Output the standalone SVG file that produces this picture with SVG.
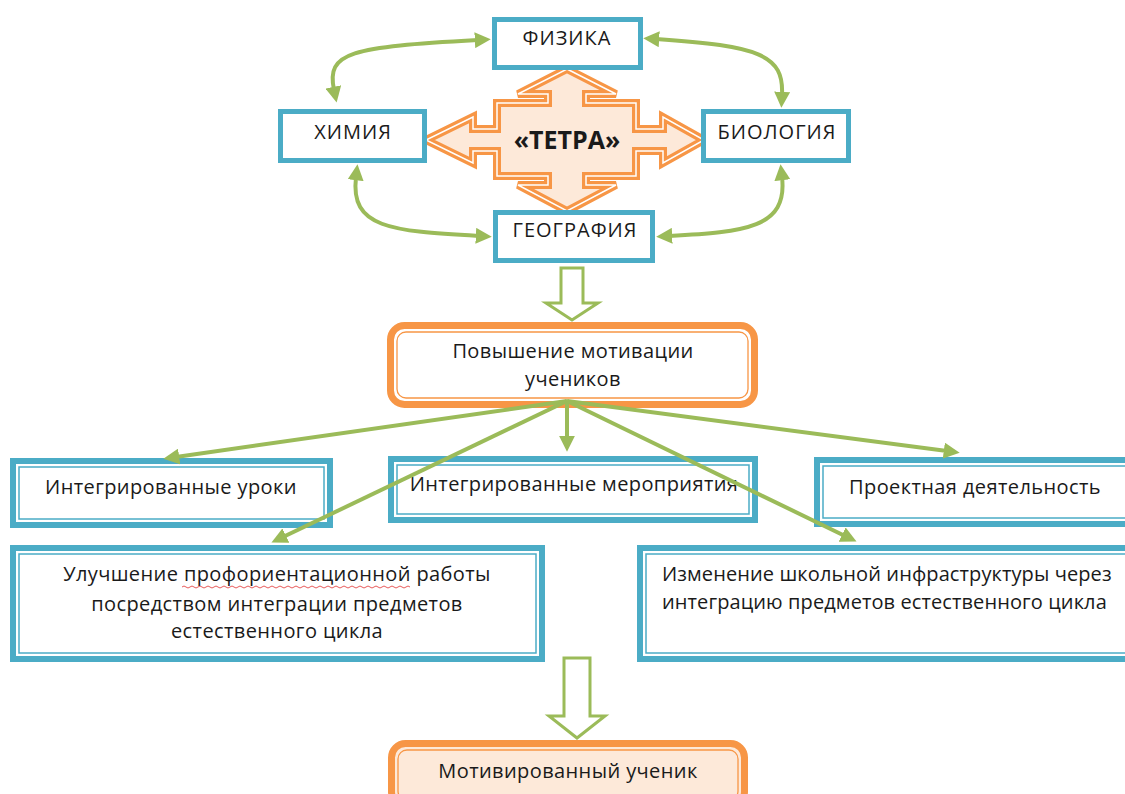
<svg xmlns="http://www.w3.org/2000/svg" width="1125" height="794" viewBox="0 0 1125 794">
<defs>
<style>
.t{font-family:"Open Sans","Noto Sans","DejaVu Sans",sans-serif;fill:#1a1a1a;font-size:20px;letter-spacing:0.4px}
.c{text-anchor:middle}
.cap{font-size:20px;letter-spacing:1px}
.bx{fill:#fff;stroke:#4BACC6;stroke-width:5}
.dbo{fill:#fff;stroke:#4BACC6;stroke-width:6}
.dbi{fill:none;stroke:#4BACC6;stroke-width:1.5}
.oro{stroke:#F79646;stroke-width:7}
.ori{fill:none;stroke:#F79646;stroke-width:1.3}
.con{fill:none;stroke:#9BBB59;stroke-width:4}
.hol{fill:#fff;stroke:#9BBB59;stroke-width:3;stroke-linejoin:miter}
</style>
<marker id="ah" viewBox="0 0 10 10" refX="2" refY="5" markerWidth="4" markerHeight="4" orient="auto-start-reverse">
<path d="M0,0 L10,5 L0,10 z" fill="#9BBB59"/>
</marker>
</defs>
<rect width="1125" height="794" fill="#fff"/>

<g id="tetra">
<path d="M567,69 L616,94 L586,94 L586,103 L636,103 L636,129 L663,129 L663,117 L704,140 L663,163 L663,151 L636,151 L636,176 L586,176 L586,185 L616,185 L567,211 L518,185 L548,185 L548,176 L497,176 L497,151 L473,151 L473,163 L426,140 L473,117 L473,129 L497,129 L497,103 L548,103 L548,94 L518,94 Z" fill="#FDE9D9" stroke="#F79646" stroke-width="8" stroke-linejoin="miter"/>
<path d="M567,69 L616,94 L586,94 L586,103 L636,103 L636,129 L663,129 L663,117 L704,140 L663,163 L663,151 L636,151 L636,176 L586,176 L586,185 L616,185 L567,211 L518,185 L548,185 L548,176 L497,176 L497,151 L473,151 L473,163 L426,140 L473,117 L473,129 L497,129 L497,103 L548,103 L548,94 L518,94 Z" fill="none" stroke="#fff" stroke-width="1.5" stroke-linejoin="miter"/>
<text class="t c" x="567" y="149" style="font-size:25px;font-weight:bold;letter-spacing:0">«ТЕТРА»</text>
</g>

<g id="fizika">
<rect class="bx" x="494.5" y="19.5" width="146" height="48"/>
<text class="t c cap" x="567" y="45">ФИЗИКА</text>
</g>
<g id="himiya">
<rect class="bx" x="280.5" y="111.5" width="144" height="49"/>
<text class="t c cap" x="353" y="139">ХИМИЯ</text>
</g>
<g id="biologiya">
<rect class="bx" x="703.5" y="111.5" width="145" height="49"/>
<text class="t c cap" x="777" y="139">БИОЛОГИЯ</text>
</g>
<g id="geografiya">
<rect class="bx" x="495.5" y="212.5" width="157" height="48"/>
<text class="t c cap" x="575" y="237">ГЕОГРАФИЯ</text>
</g>

<g id="motivation">
<rect class="oro" fill="#fff" x="390.5" y="325.5" width="364" height="79" rx="14"/>
<rect class="ori" x="397" y="332" width="351" height="66" rx="9"/>
<text class="t c" x="573" y="358">Повышение мотивации</text>
<text class="t c" x="573" y="386">учеников</text>
</g>

<g id="lessons">
<rect class="dbo" x="13" y="461" width="317" height="64"/>
<rect class="dbi" x="19" y="467" width="305" height="52"/>
<text class="t c" x="171" y="494">Интегрированные уроки</text>
</g>
<g id="events">
<rect class="dbo" x="391" y="459" width="364" height="61"/>
<rect class="dbi" x="397" y="465" width="352" height="49"/>
<text class="t c" x="574" y="491">Интегрированные мероприятия</text>
</g>
<g id="projects">
<rect class="dbo" x="817" y="460" width="320" height="64"/>
<rect class="dbi" x="823" y="466" width="320" height="52"/>
<text class="t c" x="975" y="494">Проектная деятельность</text>
</g>
<g id="career">
<rect class="dbo" x="13" y="548" width="529" height="111"/>
<rect class="dbi" x="19" y="554" width="517" height="99"/>
<text class="t c" x="277" y="581">Улучшение профориентационной работы</text>
<text class="t c" x="277" y="611">посредством интеграции предметов</text>
<text class="t c" x="277" y="638">естественного цикла</text>
<path d="M182,587 q2,-2 4,0 t4,0 t4,0 t4,0 t4,0 t4,0 t4,0 t4,0 t4,0 t4,0 t4,0 t4,0 t4,0 t4,0 t4,0 t4,0 t4,0 t4,0 t4,0 t4,0 t4,0 t4,0 t4,0 t4,0 t4,0 t4,0 t4,0 t4,0 t4,0 t4,0 t4,0 t4,0 t4,0 t4,0 t4,0 t4,0 t4,0 t4,0 t4,0 t4,0 t4,0 t4,0 t4,0 t4,0 t4,0 t4,0 t4,0 t4,0 t4,0 t4,0 t4,0 t4,0 t4,0 t4,0 t4,0 t4,0 t4,0" fill="none" stroke="#e03030" stroke-width="0.8"/>
</g>
<g id="infrastructure">
<rect class="dbo" x="640" y="548" width="497" height="111"/>
<rect class="dbi" x="646" y="554" width="497" height="99"/>
<text class="t" x="662" y="581" style="letter-spacing:0.1px">Изменение школьной инфраструктуры через</text>
<text class="t" x="662" y="609" style="letter-spacing:0.1px">интеграцию предметов естественного цикла</text>
</g>

<g id="result">
<rect class="oro" fill="#FDE9D9" x="391.5" y="743.5" width="353" height="62" rx="14"/>
<rect class="ori" x="398" y="750" width="340" height="50" rx="9"/>
<text class="t c" x="568" y="778">Мотивированный ученик</text>
</g>

<g id="connectors">
<path class="con" d="M334,90 C326,52 350,47 478,40" marker-start="url(#ah)" marker-end="url(#ah)"/>
<path class="con" d="M656,39 C760,46 784,55 782,95" marker-start="url(#ah)" marker-end="url(#ah)"/>
<path class="con" d="M356,177 C350,228 390,231 479,236" marker-start="url(#ah)" marker-end="url(#ah)"/>
<path class="con" d="M782,177 C788,228 745,232 669,236" marker-start="url(#ah)" marker-end="url(#ah)"/>
<polygon class="hol" points="561,268 583,268 583,303 598,303 572,320 546,303 561,303"/>
<path class="con" d="M567,401 L176,457" marker-end="url(#ah)"/>
<path class="con" d="M567,401 L283,537" marker-end="url(#ah)"/>
<path class="con" d="M567,401 L567,439" marker-end="url(#ah)"/>
<path class="con" d="M567,401 L947,451" marker-end="url(#ah)"/>
<path class="con" d="M567,401 L845,536" marker-end="url(#ah)"/>
<polygon class="hol" points="564,658 590,658 590,716 605,716 577,738 549,716 564,716"/>
</g>
</svg>
